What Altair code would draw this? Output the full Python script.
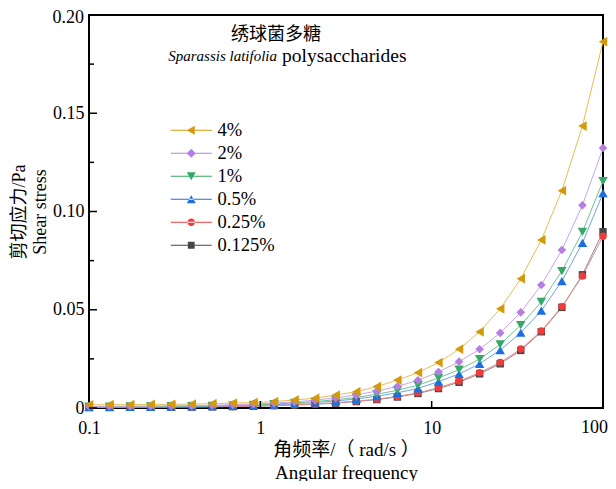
import altair as alt
import pandas as pd

# ---------------- data ----------------
freq = [0.1, 0.1318, 0.1738, 0.2291, 0.302, 0.3981, 0.5248, 0.6918, 0.912, 1.202,
        1.585, 2.089, 2.754, 3.631, 4.786, 6.31, 8.318, 10.96, 14.45, 19.05,
        25.12, 33.11, 43.65, 57.54, 75.86, 100.0]

conc_labels = ["4%", "2%", "1%", "0.5%", "0.25%", "0.125%"]

s_4 = [0.0016, 0.0017, 0.0017, 0.0018, 0.0019, 0.0020, 0.0022, 0.0025, 0.0028, 0.0032,
       0.0041, 0.0050, 0.0066, 0.0083, 0.0109, 0.0142, 0.0180, 0.0231, 0.0299, 0.0388,
       0.0505, 0.0658, 0.0855, 0.1106, 0.1435, 0.1864]
s_2 = [0.0008, 0.0009, 0.0009, 0.0010, 0.0011, 0.0012, 0.0014, 0.0017, 0.0020, 0.0025,
       0.0031, 0.0040, 0.0052, 0.0067, 0.0086, 0.0110, 0.0141, 0.0183, 0.0236, 0.0299,
       0.0382, 0.0487, 0.0626, 0.0804, 0.1032, 0.1323]
s_1 = [0.0007, 0.0007, 0.0008, 0.0008, 0.0009, 0.0010, 0.0011, 0.0013, 0.0016, 0.0020,
       0.0026, 0.0033, 0.0042, 0.0054, 0.0070, 0.0090, 0.0116, 0.0153, 0.0195, 0.0249,
       0.0324, 0.0422, 0.0540, 0.0697, 0.0896, 0.1155]
s_05 = [0.0005, 0.0005, 0.0006, 0.0006, 0.0007, 0.0008, 0.0009, 0.0011, 0.0014, 0.0017,
        0.0022, 0.0028, 0.0036, 0.0046, 0.0060, 0.0077, 0.0100, 0.0134, 0.0173, 0.0225,
        0.0295, 0.0383, 0.0495, 0.0646, 0.0840, 0.1093]
s_025 = [0.0004, 0.0004, 0.0004, 0.0005, 0.0005, 0.0006, 0.0007, 0.0008, 0.0010, 0.0013,
         0.0016, 0.0021, 0.0027, 0.0035, 0.0045, 0.0059, 0.0077, 0.0103, 0.0137, 0.0180,
         0.0232, 0.0300, 0.0392, 0.0516, 0.0672, 0.0874]
s_0125 = [0.0003, 0.0004, 0.0004, 0.0004, 0.0005, 0.0005, 0.0006, 0.0007, 0.0009, 0.0012,
          0.0015, 0.0019, 0.0025, 0.0033, 0.0043, 0.0056, 0.0074, 0.0099, 0.0131, 0.0174,
          0.0225, 0.0293, 0.0388, 0.0512, 0.0678, 0.0897]

series = [s_4, s_2, s_1, s_05, s_025, s_0125]

marker_colors = ["#D49A0C", "#B47FE0", "#35A866", "#1C6FE0", "#EE3B3B", "#454545"]
line_colors = ["#E6BE55", "#C9A3EE", "#6CC494", "#6FA2EE", "#F08A8A", "#8A8A8A"]
shapes = ["triangle-left", "diamond", "triangle-down", "triangle-up", "circle", "square"]
sizes = [95, 75, 90, 90, 55, 55]

# legend glyphs: a short line with the marker on it (path units = 5 px at symbol size 100)
LINE = "M-4.1,-0.12H4.1V0.12H-4.1Z"
legend_glyphs = [
    LINE + "M-0.9,0L0.7,-0.9L0.7,0.9Z",
    LINE + "M-0.9,0L0,-0.9L0.9,0L0,0.9Z",
    LINE + "M-0.9,-0.78L0.9,-0.78L0,0.78Z",
    LINE + "M-0.9,0.78L0.9,0.78L0,-0.78Z",
    LINE + "M-0.75,0A0.75,0.75 0 1,0 0.75,0A0.75,0.75 0 1,0 -0.75,0Z",
    LINE + "M-0.68,-0.68H0.68V0.68H-0.68Z",
]

y_major = [0, 0.05, 0.10, 0.15, 0.20]
y_minor = [0.025, 0.075, 0.125, 0.175]
x_major = [1, 10]
x_labels = [0.1, 1, 10, 100]
x_last = [100]
y_last = [0.20]

title_cn = "绣球菌多糖"
title_it = "Sparassis latifolia"
title_en = "polysaccharides"

# build long table, 0.125% first so that 4% is drawn on top
rows = []
for lab, vals, lc, sz in reversed(list(zip(conc_labels, series, line_colors, sizes))):
    for f, v in zip(freq, vals):
        rows.append({"freq": f, "stress": v, "conc": lab, "lc": lc, "sz": sz})
df = pd.DataFrame(rows)

W, H = 514, 393
SERIF = "'Liberation Serif', 'Noto Sans CJK SC'"

xscale = alt.Scale(type="log", domain=[0.1, 100], nice=False)
yscale = alt.Scale(domain=[0, 0.2], nice=False)

x_axis = alt.Axis(values=x_labels, ticks=False, domain=False, grid=False,
                  labelExpr="datum.value == 100 ? '' : format(datum.value, '~g')",
                  labelFont=SERIF, labelFontSize=18, labelColor="black",
                  labelPadding=11, labelFlush=False, labelOverlap=False,
                  title=["角频率/（ rad/s ）", "Angular frequency"],
                  titleFont=SERIF, titleFontSize=19, titleFontWeight="normal",
                  titleColor="black", titlePadding=3, titleLineHeight=23)
y_axis = alt.Axis(values=y_major, ticks=False, domain=False, grid=False,
                  labelExpr="datum.value == 0 ? '0' : (datum.value > 0.19 ? '' : format(datum.value, '.2f'))",
                  labelFont=SERIF, labelFontSize=18, labelColor="black",
                  labelPadding=5, labelFlush=False, labelOverlap=False,
                  title=["剪切应力/Pa", "Shear stress"],
                  titleFont=SERIF, titleFontSize=18, titleFontWeight="normal",
                  titleColor="black", titlePadding=3, titleLineHeight=21)

legend = alt.Legend(orient="none", legendX=93, legendY=106, title=None,
                    labelFont=SERIF, labelFontSize=18.5, labelColor="black",
                    symbolSize=100, rowPadding=4, labelOffset=17)

base = alt.Chart(df)

lines = base.mark_line(strokeWidth=1).encode(
    x=alt.X("freq:Q", scale=xscale, axis=x_axis),
    y=alt.Y("stress:Q", scale=yscale, axis=y_axis),
    detail="conc:N",
    stroke=alt.Stroke("lc:N", scale=None),
)

points = base.mark_point(filled=True, opacity=1).encode(
    x=alt.X("freq:Q", scale=xscale, axis=x_axis),
    y=alt.Y("stress:Q", scale=yscale, axis=y_axis),
    color=alt.Color("conc:N", scale=alt.Scale(domain=conc_labels, range=marker_colors), legend=None),
    shape=alt.Shape("conc:N", scale=alt.Scale(domain=conc_labels, range=shapes), legend=None),
    size=alt.Size("sz:Q", scale=None),
)

legend_layer = base.transform_filter("false").mark_point(filled=True, opacity=1).encode(
    x=alt.X("freq:Q", scale=xscale, axis=x_axis),
    y=alt.Y("stress:Q", scale=yscale, axis=y_axis),
    color=alt.Color("conc:N", scale=alt.Scale(domain=conc_labels, range=marker_colors), legend=legend),
    shape=alt.Shape("conc:N", scale=alt.Scale(domain=conc_labels, range=legend_glyphs), legend=legend),
)

ymaj_ticks = alt.Chart(pd.DataFrame({"v": y_major})).mark_rule(color="black", strokeWidth=1.5).encode(
    y=alt.Y("v:Q", scale=yscale, axis=y_axis), x=alt.value(0), x2=alt.value(8))
ymin_ticks = alt.Chart(pd.DataFrame({"v": y_minor})).mark_rule(color="black", strokeWidth=1.5).encode(
    y=alt.Y("v:Q", scale=yscale, axis=y_axis), x=alt.value(0), x2=alt.value(5))
xmaj_ticks = alt.Chart(pd.DataFrame({"v": x_major})).mark_rule(color="black", strokeWidth=1.5).encode(
    x=alt.X("v:Q", scale=xscale, axis=x_axis), y=alt.value(H), y2=alt.value(H - 7))

# edge tick labels kept inside the page
x_last_lab = alt.Chart(pd.DataFrame({"v": x_last})).mark_text(
    font="Liberation Serif", fontSize=18, align="right", baseline="top", dx=5, color="black"
).encode(x=alt.X("v:Q", scale=xscale, axis=x_axis), y=alt.value(H + 11), text=alt.Text("v:Q", format="~g"))
y_last_lab = alt.Chart(pd.DataFrame({"v": y_last})).mark_text(
    font="Liberation Serif", fontSize=18, align="right", baseline="middle", dy=3, color="black"
).encode(y=alt.Y("v:Q", scale=yscale, axis=y_axis), x=alt.value(-5), text=alt.Text("v:Q", format=".2f"))

t_cn = alt.Chart(pd.DataFrame({"t": [title_cn]})).mark_text(
    font="Noto Sans CJK SC", fontSize=18, align="center", baseline="middle", color="black"
).encode(text="t:N", x=alt.value(187), y=alt.value(20))
t_it = alt.Chart(pd.DataFrame({"t": [title_it]})).mark_text(
    font="Liberation Serif", fontSize=15, fontStyle="italic", align="right", baseline="middle", color="black"
).encode(text="t:N", x=alt.value(188), y=alt.value(41))
t_en = alt.Chart(pd.DataFrame({"t": [title_en]})).mark_text(
    font="Liberation Serif", fontSize=19.5, align="left", baseline="middle", color="black"
).encode(text="t:N", x=alt.value(193), y=alt.value(41))

chart = alt.layer(lines, points, legend_layer, ymaj_ticks, ymin_ticks, xmaj_ticks,
                  x_last_lab, y_last_lab, t_cn, t_it, t_en).resolve_scale(
    color="independent", shape="independent"
).properties(
    width=W, height=H,
    autosize=alt.AutoSizeParams(type="none"),
    padding={"left": 81, "top": 7, "right": 5, "bottom": 73},
).configure_view(stroke="black", strokeWidth=2)

chart.save("out.html", embed_options={"renderer": "svg", "actions": False})
